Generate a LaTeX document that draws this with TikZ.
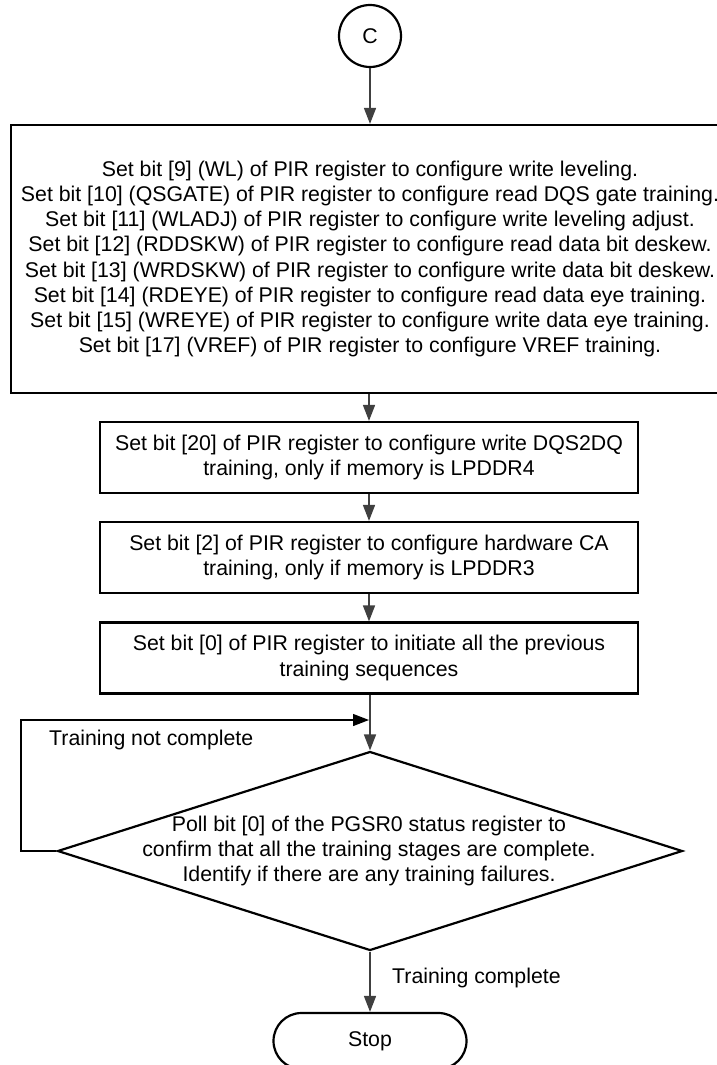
\documentclass[tikz,border=0pt]{standalone}
\usepackage{fontspec}
\setmainfont{Liberation Sans}
\usetikzlibrary{shapes.geometric,shapes.misc,arrows.meta}
\begin{document}
\begin{tikzpicture}[x=1pt,y=-1pt,
  font=\fontsize{21.3}{25.2}\selectfont,
  proc/.style={draw, line width=2.2pt, minimum width=538pt, minimum height=71pt, inner sep=0pt, align=center},
  conn/.style={draw=black!75, line width=1.6pt, -{Triangle[length=16pt,width=12pt]}},
  loopline/.style={draw=black, line width=1.3pt, -{Triangle[length=16pt,width=12pt]}},
  lbl/.style={anchor=west, inner sep=0pt}]
\clip (0,0) rectangle (717,1065);
\useasboundingbox (0,0) rectangle (717,1065);

\node[circle, draw, line width=2.2pt, minimum size=62pt, inner sep=0pt] (c) at (370,36) {C};

\node[proc, minimum width=718pt, minimum height=268pt] (big) at (370,259) {%
Set bit [9] (WL) of PIR register to configure write leveling.\\
Set bit [10] (QSGATE) of PIR register to configure read DQS gate training.\\
Set bit [11] (WLADJ) of PIR register to configure write leveling adjust.\\
Set bit [12] (RDDSKW) of PIR register to configure read data bit deskew.\\
Set bit [13] (WRDSKW) of PIR register to configure write data bit deskew.\\
Set bit [14] (RDEYE) of PIR register to configure read data eye training.\\
Set bit [15] (WREYE) of PIR register to configure write data eye training.\\
Set bit [17] (VREF) of PIR register to configure VREF training.};

\node[proc] (b2) at (369,457.5) {Set bit [20] of PIR register to configure write DQS2DQ\\training, only if memory is LPDDR4};
\node[proc] (b3) at (369,557.5) {Set bit [2] of PIR register to configure hardware CA\\training, only if memory is LPDDR3};
\node[proc] (b4) at (369,658) {Set bit [0] of PIR register to initiate all the previous\\training sequences};

\node[diamond, draw, line width=2.2pt, minimum width=625pt, minimum height=199pt, inner sep=0pt] (d) at (370,851) {};
\node[align=center, inner sep=0pt] (dtxt) at (369,851) {Poll bit [0] of the PGSR0 status register to\\confirm that all the training stages are complete.\\Identify if there are any training failures.};

\node[rounded rectangle, draw, line width=2.2pt, minimum width=193pt, minimum height=56pt, inner sep=0pt] (stop) at (370,1041) {Stop};

\coordinate (m) at (369,720);
\coordinate (lc) at (21,851);

\draw[conn] (c) -- (big.north -| c);
\draw[conn] (big.south -| b2) -- (b2);
\draw[conn] (b2) -- (b3);
\draw[conn] (b3) -- (b4);
\draw[conn] (b4.south -| d) -- (d.north);
\draw[loopline] (d.west) -- (lc) |- (m);
\draw[conn] (d.south) -- (stop.north);

\node[lbl] (tnc) at (49,740) {Training not complete};
\node[lbl] (tc) at (392,978) {Training complete};
\end{tikzpicture}
\end{document}
